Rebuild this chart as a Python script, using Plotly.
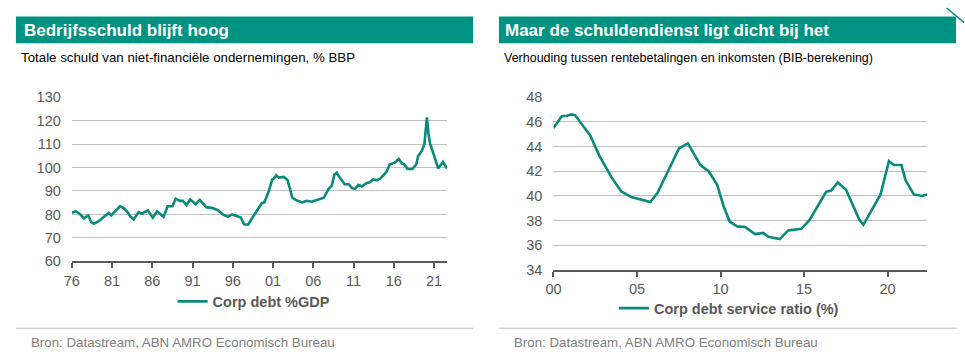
import plotly.graph_objects as go

# ---------------- data ----------------
debt_years = [1976.0, 1976.5, 1977.1, 1977.5, 1978.05, 1978.4, 1978.75, 1979.4, 1980.0, 1980.6,
              1980.9, 1981.4, 1982.0, 1982.45, 1982.85, 1983.3, 1983.7, 1984.3, 1984.7, 1985.45,
              1986.06, 1986.6, 1987.4, 1987.9, 1988.5, 1988.9, 1989.4, 1989.8, 1990.25, 1990.7,
              1991.4, 1991.9, 1992.7, 1993.5, 1994.2, 1994.8, 1995.4, 1995.9, 1996.6, 1997.0,
              1997.4, 1997.9, 1998.5, 1999.1, 1999.6, 1999.9, 2000.4, 2000.9, 2001.1, 2001.4,
              2001.7, 2002.35, 2002.8, 2003.4, 2003.8, 2004.6, 2005.2, 2005.8, 2006.4, 2006.9,
              2007.3, 2007.9, 2008.3, 2008.6, 2008.9, 2009.3, 2009.9, 2010.4, 2010.8, 2011.2,
              2011.6, 2012.0, 2012.6, 2013.0, 2013.4, 2013.9, 2014.3, 2014.7, 2015.1, 2015.5,
              2016.1, 2016.6, 2017.0, 2017.3, 2017.7, 2018.3, 2018.8, 2019.0, 2019.5, 2019.8,
              2020.1, 2020.3, 2020.5, 2021.0, 2021.5, 2022.1, 2022.6]
debt_pct = [80.7, 81.4, 79.9, 78.3, 79.6, 76.7, 76.0, 77.2, 79.0, 80.6,
            79.6, 81.3, 83.5, 82.7, 81.3, 79.0, 77.9, 81.0, 80.3, 81.7,
            78.6, 81.3, 79.0, 83.5, 83.5, 86.7, 85.8, 85.8, 84.0, 86.4,
            84.4, 86.2, 83.1, 82.7, 81.7, 79.9, 79.0, 80.0, 79.0, 78.7,
            75.8, 75.6, 79.0, 82.0, 84.8, 85.1, 89.2, 94.9, 95.3, 96.7,
            95.7, 96.0, 94.6, 87.1, 86.2, 85.1, 85.8, 85.4, 86.2, 86.7,
            87.1, 90.9, 92.3, 96.9, 97.8, 95.6, 92.9, 92.9, 91.2, 90.9,
            92.6, 91.9, 93.3, 93.7, 94.9, 94.6, 95.3, 96.7, 98.3, 101.4,
            102.1, 103.7, 101.8, 101.4, 99.4, 99.4, 101.4, 104.8, 107.3, 110.2,
            121.4, 114.3, 110.2, 105.1, 99.6, 102.4, 99.6]

dsr_years = [2000.0, 2000.5, 2000.8, 2001.1, 2001.3, 2001.7, 2002.2, 2002.77, 2003.46, 2004.05,
             2004.65, 2005.8, 2006.23, 2006.82, 2007.52, 2008.05, 2008.4, 2008.8, 2009.3, 2009.8,
             2010.2, 2010.55, 2011.0, 2011.47, 2012.07, 2012.56, 2012.86, 2013.55, 2014.05, 2014.84,
             2015.33, 2015.83, 2016.32, 2016.62, 2017.02, 2017.51, 2017.9, 2018.3, 2018.55, 2019.09,
             2019.58, 2020.08, 2020.37, 2020.83, 2021.07, 2021.57, 2022.06, 2022.36]
dsr_pct = [45.5, 46.45, 46.5, 46.6, 46.53, 45.8, 44.9, 43.2, 41.54, 40.37,
           39.9, 39.5, 40.25, 41.9, 43.86, 44.25, 43.47, 42.5, 41.98, 40.9,
           39.1, 37.92, 37.53, 37.48, 36.9, 37.0, 36.68, 36.5, 37.2, 37.33,
           38.05, 39.2, 40.33, 40.43, 41.1, 40.5, 39.34, 38.1, 37.66, 38.95,
           40.12, 42.83, 42.5, 42.5, 41.28, 40.12, 39.99, 40.12]

debt_tickvals = [1976, 1981, 1986, 1991, 1996, 2001, 2006, 2011, 2016, 2021]
debt_ticktext = ["76", "81", "86", "91", "96", "01", "06", "11", "16", "21"]
dsr_tickvals = [2000, 2005, 2010, 2015, 2020]
dsr_ticktext = ["00", "05", "10", "15", "20"]

# ---------------- style ----------------
W, H = 965, 363
TEAL_BAR = "#009382"
TEAL_LINE = "#0a8a7b"
AXIS_GRAY = "#595959"
GRID = "#c0c0c0"
FONT = "Liberation Sans, Arial, sans-serif"


def px(x):
    return x / W


def py(y):
    return 1 - y / H


fig = go.Figure()
fig.add_trace(go.Scatter(x=debt_years, y=debt_pct, mode="lines", name="Corp debt %GDP",
                         line=dict(color=TEAL_LINE, width=2.6), xaxis="x", yaxis="y",
                         legend="legend"))
fig.add_trace(go.Scatter(x=dsr_years, y=dsr_pct, mode="lines", name="Corp debt service ratio (%)",
                         line=dict(color=TEAL_LINE, width=2.6), xaxis="x2", yaxis="y2",
                         legend="legend2"))

xcommon = dict(showline=True, linecolor=AXIS_GRAY, linewidth=2, ticks="outside", ticklen=5,
               tickwidth=2, tickcolor=AXIS_GRAY, showgrid=False, zeroline=False,
               tickfont=dict(family=FONT, size=14.5, color=AXIS_GRAY), fixedrange=True)
ycommon = dict(showgrid=True, gridcolor=GRID, gridwidth=1, zeroline=False, showline=False,
               ticks="", tickfont=dict(family=FONT, size=14.5, color=AXIS_GRAY),
               ticklabelstandoff=10, fixedrange=True)

legfont = dict(family=FONT, size=14.5, color=AXIS_GRAY, weight="bold")

fig.update_layout(
    width=W, height=H, margin=dict(l=0, r=0, t=0, b=0),
    paper_bgcolor="white", plot_bgcolor="white",
    font=dict(family=FONT),
    xaxis=dict(domain=[px(64.3), px(443)], range=[1976, 2022.64], tickmode="array",
               tickvals=debt_tickvals, ticktext=debt_ticktext, anchor="y", **xcommon),
    yaxis=dict(domain=[py(265), py(93.3)], range=[60, 130], dtick=10, tick0=60, anchor="x",
               **ycommon),
    xaxis2=dict(domain=[px(550), px(926.7)], range=[2000, 2022.36], tickmode="array",
                tickvals=dsr_tickvals, ticktext=dsr_ticktext, anchor="y2", **xcommon),
    yaxis2=dict(domain=[py(274), py(93.3)], range=[34, 48], dtick=2, tick0=34, anchor="x2",
                **ycommon),
    legend=dict(x=px(166), y=py(307), xanchor="left", yanchor="middle", orientation="h",
                bgcolor="rgba(0,0,0,0)", font=legfont, itemwidth=30),
    legend2=dict(x=px(611), y=py(314), xanchor="left", yanchor="middle", orientation="h",
                 bgcolor="rgba(0,0,0,0)", font=legfont, itemwidth=30),
    showlegend=True,
)

shapes = [
    dict(type="rect", xref="paper", yref="paper", x0=px(8), x1=px(469), y0=py(37), y1=py(9),
         fillcolor=TEAL_BAR, line=dict(width=0), layer="below"),
    dict(type="rect", xref="paper", yref="paper", x0=px(495), x1=px(956), y0=py(37), y1=py(9),
         fillcolor=TEAL_BAR, line=dict(width=0), layer="below"),
    dict(type="line", xref="paper", yref="paper", x0=px(8), x1=px(469), y0=py(335), y1=py(335),
         line=dict(color="#bfbfbf", width=1)),
    dict(type="line", xref="paper", yref="paper", x0=px(495), x1=px(957), y0=py(335), y1=py(335),
         line=dict(color="#bfbfbf", width=1)),
    dict(type="line", xref="paper", yref="paper", x0=px(946.5), x1=px(964), y0=py(0), y1=py(15),
         line=dict(color=TEAL_BAR, width=1.5)),
]
fig.update_layout(shapes=shapes)

annotations = [
    dict(text="Bedrijfsschuld blijft hoog", x=px(14), y=py(24), xref="paper", yref="paper",
         xanchor="left", yanchor="middle", showarrow=False,
         font=dict(family=FONT, size=17, color="white", weight="bold")),
    dict(text="Maar de schuldendienst ligt dicht bij het", x=px(499.5), y=py(24), xref="paper",
         yref="paper", xanchor="left", yanchor="middle", showarrow=False,
         font=dict(family=FONT, size=17, color="white", weight="bold")),
    dict(text="Totale schuld van niet-financiële ondernemingen, % BBP", x=px(11), y=py(52),
         xref="paper", yref="paper", xanchor="left", yanchor="middle", showarrow=False,
         font=dict(family=FONT, size=13.3, color="black")),
    dict(text="Verhouding tussen rentebetalingen en inkomsten (BIB-berekening)", x=px(498),
         y=py(52), xref="paper", yref="paper", xanchor="left", yanchor="middle",
         showarrow=False, font=dict(family=FONT, size=12.5, color="black")),
    dict(text="Bron: Datastream, ABN AMRO Economisch Bureau", x=px(21), y=py(350),
         xref="paper", yref="paper", xanchor="left", yanchor="middle", showarrow=False,
         font=dict(family=FONT, size=13.3, color="#7f7f7f")),
    dict(text="Bron: Datastream, ABN AMRO Economisch Bureau", x=px(508), y=py(350),
         xref="paper", yref="paper", xanchor="left", yanchor="middle", showarrow=False,
         font=dict(family=FONT, size=13.3, color="#7f7f7f")),
]
fig.update_layout(annotations=annotations)

fig.write_html("out.html", config={"displayModeBar": False},
               post_script="document.body.style.margin='0';document.body.style.overflow='hidden';")
